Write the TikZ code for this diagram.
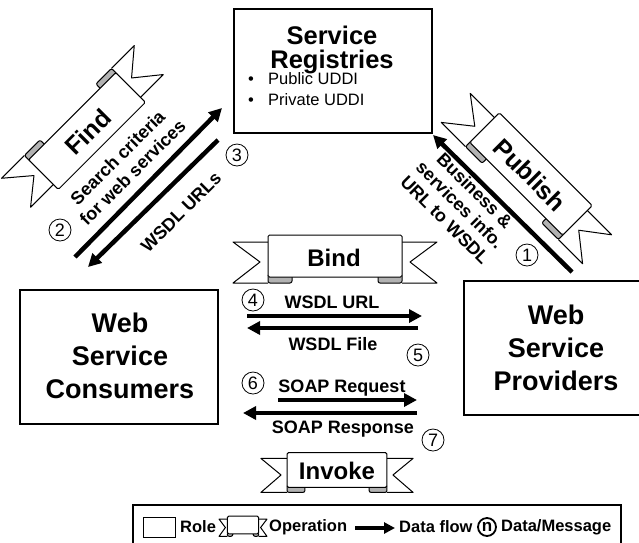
\documentclass[tikz,border=0pt]{standalone}
\usepackage{fontspec}
\setmainfont{Liberation Sans}
\usepackage{tikz}
\usetikzlibrary{positioning, arrows.meta, calc}
\tikzset{
    role/.style={
        draw=black,
        line width=2pt,
        fill=white
    },
    roletext/.style={
        font=\bfseries\fontsize{27}{33}\selectfont,
        align=center,
        inner sep=0pt
    },
    optext/.style={
        font=\bfseries\fontsize{24}{26}\selectfont,
        inner sep=0pt
    },
    msgtext/.style={
        font=\bfseries\fontsize{18}{21}\selectfont,
        align=center,
        inner sep=0pt
    },
    itemtext/.style={
        font=\fontsize{16.5}{20}\selectfont,
        inner sep=0pt
    },
    keytext/.style={
        font=\bfseries\fontsize{16.5}{18}\selectfont,
        inner sep=0pt,
        anchor=west
    },
    flow/.style={
        line width=4.5pt,
        -{Triangle[length=13pt,width=13pt]}
    },
    stepnum/.style={
        circle,
        draw=black,
        line width=0.8pt,
        minimum size=22pt,
        inner sep=0pt,
        font=\fontsize{18}{18}\selectfont
    },
    ribbonline/.style={
        draw=black,
        line width=1pt,
        fill=white,
        line join=round
    },
    ribbon/.pic={
        % the two notched tails
        \foreach \s in {-1,1} {
            \draw[ribbonline] (\s*67,-14) -- (\s*102,-14) -- (\s*75,6)
                -- (\s*102,27) -- (\s*67,27);
            \draw[ribbonline, fill=gray!60, rounded corners=2pt]
                (\s*67,18) rectangle (\s*43,27);
        }
        % front of the ribbon
        \draw[ribbonline, rounded corners=1.5pt] (-67,-21) rectangle (67,21);
    }
}

\begin{document}
\begin{tikzpicture}[x=1pt, y=-1pt]
\useasboundingbox (0,0) rectangle (639,542);

%---------------- Roles ----------------

\node[role, minimum width=198pt, minimum height=124pt] (registry) at (333,71) {};
\node[roletext, font=\bfseries\fontsize{25.5}{23.5}\selectfont, anchor=north] (regname) at (332,26) {Service\\Registries};
\node[itemtext, anchor=base] (dot1) at (251,84) {•};
\node[itemtext, anchor=base west] (public) at (268,84) {Public UDDI};
\node[itemtext, anchor=base] (dot2) at (251,105) {•};
\node[itemtext, anchor=base west] (private) at (268,105) {Private UDDI};

\node[role, minimum width=198pt, minimum height=134pt] (consumer) at (119,357) {};
\node[roletext, anchor=north] (conname) at (120,313) {Web\\Service\\Consumers};

\node[role, minimum width=184pt, minimum height=134pt] (provider) at (556,348) {};
\node[roletext, anchor=north] (proname) at (556,305) {Web\\Service\\Providers};

%---------------- Find ----------------

\pic[rotate=45, xscale=0.92, yscale=-1] (findband) at (87,131) {ribbon};
\node[optext, font=\bfseries\fontsize{25}{26}\selectfont, rotate=45] (find) at (88,132) {Find};

\coordinate (srchA) at (75,257);
\coordinate (srchB) at (222,108);
\coordinate (urlsA) at (218,140);
\coordinate (urlsB) at (88,267);
\draw[flow] (srchA) -- (srchB);
\draw[flow] (urlsA) -- (urlsB);

\node[msgtext, rotate=45] (criteria) at (125,165) {Search criteria\\for web services};
\node[msgtext, rotate=45] (urls) at (181,212) {WSDL URLs};
\node[stepnum] (n2) at (60,230) {2};
\node[stepnum] (n3) at (237,155) {3};

%---------------- Publish ----------------

\pic[rotate=-45, xscale=0.98] (pubband) at (531,174) {ribbon};
\node[optext, font=\bfseries\fontsize{25}{26}\selectfont, rotate=-45] (publish) at (530,175) {Publish};

\coordinate (pubA) at (572,272);
\coordinate (pubB) at (433,135);
\draw[flow] (pubA) -- (pubB);

\node[msgtext, rotate=-45] (business) at (460,205) {Business \&\\services info.\\URL to WSDL};
\node[stepnum] (n1) at (527,255) {1};

%---------------- Bind ----------------

\pic (bindband) at (335,256) {ribbon};
\node[optext] (bind) at (334,258) {Bind};

\coordinate (wurlA) at (247,316);
\coordinate (wurlB) at (422,316);
\coordinate (wfileA) at (418,328);
\coordinate (wfileB) at (247,328);
\draw[flow] (wurlA) -- (wurlB);
\draw[flow] (wfileA) -- (wfileB);

\node[msgtext, anchor=base] (wurl) at (332,308) {WSDL URL};
\node[msgtext, anchor=base] (wfile) at (333,350) {WSDL File};
\node[stepnum] (n4) at (253,300) {4};
\node[stepnum] (n5) at (418,355) {5};

%---------------- Invoke ----------------

\coordinate (reqA) at (278,400);
\coordinate (reqB) at (417,400);
\coordinate (respA) at (417,413);
\coordinate (respB) at (243,413);
\draw[flow] (reqA) -- (reqB);
\draw[flow] (respA) -- (respB);

\node[msgtext, anchor=base] (req) at (342,392) {SOAP Request};
\node[msgtext, anchor=base] (resp) at (343,433) {SOAP Response};
\node[stepnum] (n6) at (253,383) {6};
\node[stepnum] (n7) at (433,440) {7};

\pic[xscale=0.746, yscale=0.83] (invband) at (337,470) {ribbon};
\node[optext] (invoke) at (337,471) {Invoke};

%---------------- Legend ----------------

\node[draw=black, line width=1.5pt, minimum width=488pt, minimum height=44pt] (legend) at (377,527) {};

\node[draw=black, line width=1pt, minimum width=32pt, minimum height=20pt] (roleicon) at (159,527) {};
\node[keytext] (rolekey) at (180,527) {Role};

\pic[xscale=0.235, yscale=0.42] (opicon) at (243,525) {ribbon};
\node[keytext] (opkey) at (269,527) {Operation};

\coordinate (keyA) at (355,528);
\coordinate (keyB) at (395,528);
\draw[flow, line width=3.5pt, -{Triangle[length=11pt,width=11pt]}] (keyA) -- (keyB);
\node[keytext] (flowkey) at (399,527) {Data flow};

\node[circle, draw=black, line width=1.8pt, minimum size=18pt, inner sep=0pt, font=\bfseries\fontsize{17}{17}\selectfont] (nicon) at (487,527) {n};
\node[keytext] (msgkey) at (501,527) {Data/Message};

\end{tikzpicture}
\end{document}
